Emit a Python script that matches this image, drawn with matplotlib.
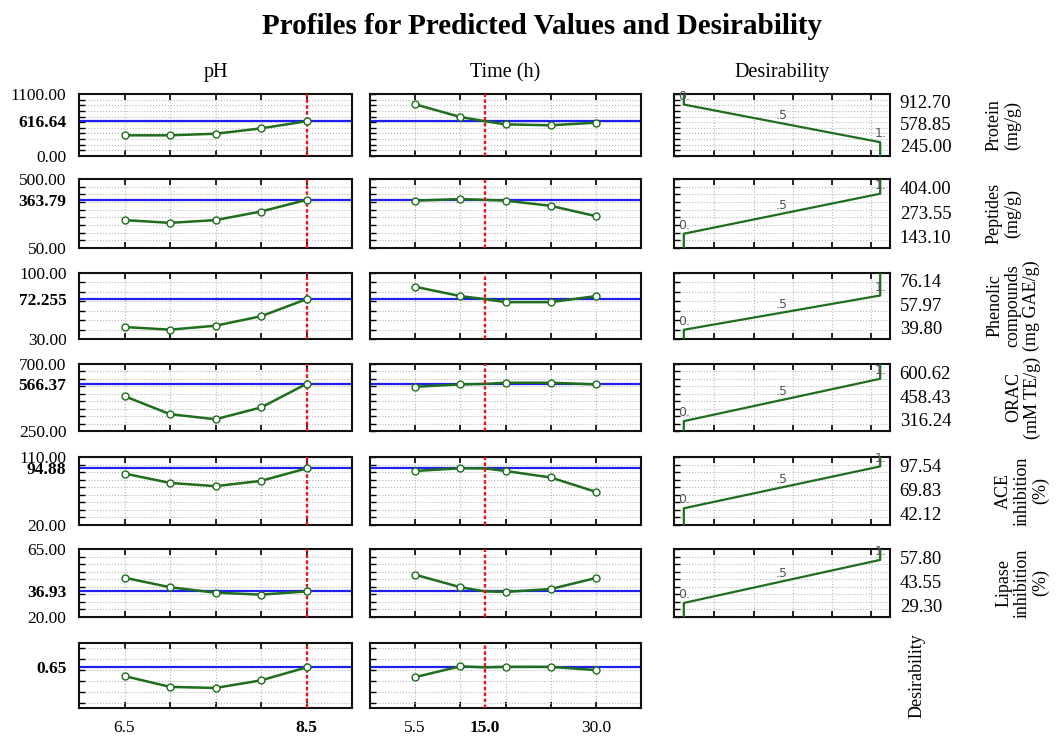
import matplotlib
matplotlib.use("Agg")
import matplotlib.pyplot as plt
from matplotlib.transforms import blended_transform_factory
import numpy as np

# ---------------- data ----------------
ph_levels = [6.5, 7.0, 7.5, 8.0, 8.5]
time_levels = [5.5, 11.625, 17.75, 23.875, 30.0]
ph_current = 8.5
time_current = 15.0

response_names = ["Protein\n(mg/g)", "Peptides\n(mg/g)",
                  "Phenolic\ncompounds\n(mg GAE/g)", "ORAC\n(mM TE/g)",
                  "ACE\ninhibition\n(%)", "Lipase\ninhibition\n(%)", "Desirability"]
y_min = [0.0, 50.0, 30.0, 250.0, 20.0, 20.0, -0.1]
y_max = [1100.0, 500.0, 100.0, 700.0, 110.0, 65.0, 1.1]
y_step = [100, 50, 10, 50, 10, 5, 0.2]
y_min_labels = ["0.00", "50.00", "30.00", "250.00", "20.00", "20.00", None]
y_max_labels = ["1100.00", "500.00", "100.00", "700.00", "110.00", "65.00", None]
current_values = [616.64, 363.79, 72.255, 566.37, 94.88, 36.93, 0.65]
current_labels = ["616.64", "363.79", "72.255", "566.37", "94.88", "36.93", "0.65"]

protein_ph = [367, 367, 395, 490, 616.64]
peptides_ph = [232, 214, 232, 288, 363.79]
phenolic_ph = [42.7, 39.9, 44.1, 54.1, 72.255]
orac_ph = [484, 363, 329, 408, 566.37]
ace_ph = [88.1, 75.7, 71.4, 78.4, 94.88]
lipase_ph = [46.0, 39.7, 36.1, 34.8, 36.93]
desir_ph = [0.49, 0.29, 0.27, 0.41, 0.65]

protein_time = [917, 692, 562, 545, 591]
peptides_time = [359, 369, 359, 325, 258]
phenolic_time = [85.4, 75.5, 69.1, 69.1, 75.5]
orac_time = [547, 563, 574, 574, 563]
ace_time = [91.5, 95.1, 91.5, 82.9, 63.9]
lipase_time = [48.0, 39.7, 36.6, 38.5, 45.8]
desir_time = [0.47, 0.67, 0.66, 0.66, 0.60]

ph_profiles = [protein_ph, peptides_ph, phenolic_ph, orac_ph, ace_ph, lipase_ph, desir_ph]
time_profiles = [protein_time, peptides_time, phenolic_time, orac_time, ace_time, lipase_time, desir_time]

# desirability function: response value at d=0, d=0.5, d=1
d_zero = [912.70, 143.10, 39.80, 316.24, 42.12, 29.30]
d_half = [578.85, 273.55, 57.97, 458.43, 69.83, 43.55]
d_one = [245.00, 404.00, 76.14, 600.62, 97.54, 57.80]
d_zero_labels = ["912.70", "143.10", "39.80", "316.24", "42.12", "29.30"]
d_half_labels = ["578.85", "273.55", "57.97", "458.43", "69.83", "43.55"]
d_one_labels = ["245.00", "404.00", "76.14", "600.62", "97.54", "57.80"]
d_ticks = [0.155, 0.355, 0.555, 0.755, 0.955]

# ---------------- style / layout ----------------
plt.rcParams['font.family'] = ['Liberation Serif', 'DejaVu Serif']
W, H = 1056, 738
fig = plt.figure(figsize=(W / 100, H / 100), dpi=100)

def box(l, t, r, b):
    return [l / W, 1 - b / H, (r - l) / W, (b - t) / H]

col_x = [(79, 352), (370, 641), (674, 890)]
row_y = [(94, 156), (179, 248), (273, 339), (364, 431), (457, 525), (549, 617), (643, 708)]
name_x = [1003, 1003, 1013, 1023, 1022, 1022, 917]

GREEN = "#1e6e1e"
BLUE = "#2020ee"
RED = "#e8161a"
GRID = "#b8b8b8"

fig.text(542 / W, 1 - 26 / H, "Profiles for Predicted Values and Desirability",
         ha="center", va="center", fontsize=21, fontweight="bold")
headers = ["pH", "Time (h)", "Desirability"]
for (l, r), h in zip(col_x, headers):
    fig.text((l + r) / 2 / W, 1 - 73 / H, h, ha="center", va="center", fontsize=14.5)


def base_style(ax, ymin, ymax, ystep, xticks):
    ax.set_ylim(ymin, ymax)
    grid_y = np.arange(np.ceil(ymin / ystep - 1e-9) * ystep, ymax + 1e-9, ystep)
    ax.set_yticks(grid_y, minor=True)
    ax.set_xticks(xticks)
    ax.set_xticklabels([])
    ax.tick_params(axis="y", which="minor", direction="in", length=4, width=1.0,
                   left=True, right=False)
    ax.tick_params(axis="x", which="major", direction="in", length=4, width=1.2,
                   top=True, bottom=True)
    ax.grid(which="minor", axis="y", ls=":", color=GRID, lw=0.8)
    ax.grid(which="major", axis="x", ls=":", color=GRID, lw=0.8)
    for s in ax.spines.values():
        s.set_linewidth(1.5)
        s.set_color("#111111")
    ax.set_axisbelow(True)


n_rows = len(row_y)
for i in range(n_rows):
    t, b = row_y[i]
    for j, (levels, profiles, cur_x) in enumerate(
            [(ph_levels, ph_profiles, ph_current), (time_levels, time_profiles, time_current)]):
        l, r = col_x[j]
        ax = fig.add_axes(box(l, t, r, b))
        step = levels[1] - levels[0]
        ax.set_xlim(levels[0] - step, levels[-1] + step)
        base_style(ax, y_min[i], y_max[i], y_step[i], levels)
        ax.axhline(current_values[i], color=BLUE, lw=1.6, zorder=2)
        ax.axvline(cur_x, color=RED, lw=1.7, ls=(0, (1.5, 1)), zorder=4)
        # profile line passes through the current point
        xs = list(levels)
        ys = list(profiles[i])
        if cur_x not in xs:
            k = int(np.searchsorted(xs, cur_x))
            xs.insert(k, cur_x)
            ys.insert(k, current_values[i])
        ax.plot(xs, ys, color=GREEN, lw=1.8, zorder=3)
        ax.plot(levels, profiles[i], ls="none", marker="o", ms=5, mfc="white",
                mec=GREEN, mew=1.0, zorder=5)
        # y labels (only in the first column)
        if j == 0:
            ticks, labs = [], []
            if y_max_labels[i] is not None:
                ticks.append(y_max[i]); labs.append(y_max_labels[i])
            ticks.append(current_values[i]); labs.append(current_labels[i])
            if y_min_labels[i] is not None:
                ticks.append(y_min[i]); labs.append(y_min_labels[i])
            ax.set_yticks(ticks)
            ax.set_yticklabels(labs, fontsize=12.5)
            ax.tick_params(axis="y", which="major", length=0, pad=9)
            for tl, lab in zip(ax.get_yticklabels(), labs):
                if lab == current_labels[i]:
                    tl.set_fontweight("bold")
        else:
            ax.set_yticks([])
        # bottom labels: min, current (bold), max
        if i == n_rows - 1:
            tr = blended_transform_factory(ax.transData, ax.transAxes)
            for v in [levels[0], levels[-1]]:
                if v != cur_x:
                    ax.text(v, -0.31, f"{v:.1f}", transform=tr, ha="center",
                            va="center", fontsize=12.5)
            ax.text(cur_x, -0.31, f"{cur_x:.1f}", transform=tr, ha="center",
                    va="center", fontsize=12.5, fontweight="bold")

    # desirability function panel
    if i < len(d_zero):
        l, r = col_x[2]
        ax = fig.add_axes(box(l, t, r, b))
        ax.set_xlim(-0.05, 1.05)
        base_style(ax, y_min[i], y_max[i], y_step[i], d_ticks)
        ax.set_yticks([])
        v0, vh, v1 = d_zero[i], d_half[i], d_one[i]
        edge0 = y_max[i] if v0 > v1 else y_min[i]
        edge1 = y_min[i] if v0 > v1 else y_max[i]
        ax.plot([0, 0, 1, 1], [edge0, v0, v1, edge1], color=GREEN, lw=1.6, zorder=3)
        for dx, dv, txt in [(0, v0, "0."), (0.5, vh, ".5"), (1, v1, "1.")]:
            ax.annotate(txt, (dx, dv), xytext=(0, 6), textcoords="offset points",
                        ha="center", va="center", fontsize=9, color="#555555",
                        family="DejaVu Sans", zorder=4)
        vals = sorted([(v0, d_zero_labels[i]), (vh, d_half_labels[i]), (v1, d_one_labels[i])],
                      reverse=True)
        for frac, (_, lab) in zip([0.85, 0.49, 0.14], vals):
            ax.text(1.045, frac, lab, transform=ax.transAxes, ha="left", va="center",
                    fontsize=13.5)

    # response name on the far right
    cy = 1 - (t + b) / 2 / H
    fig.text(name_x[i] / W, cy, response_names[i], rotation=90, ha="center",
             va="center", fontsize=13, linespacing=1.1, multialignment="center")

fig.savefig("out.png", dpi=100)
